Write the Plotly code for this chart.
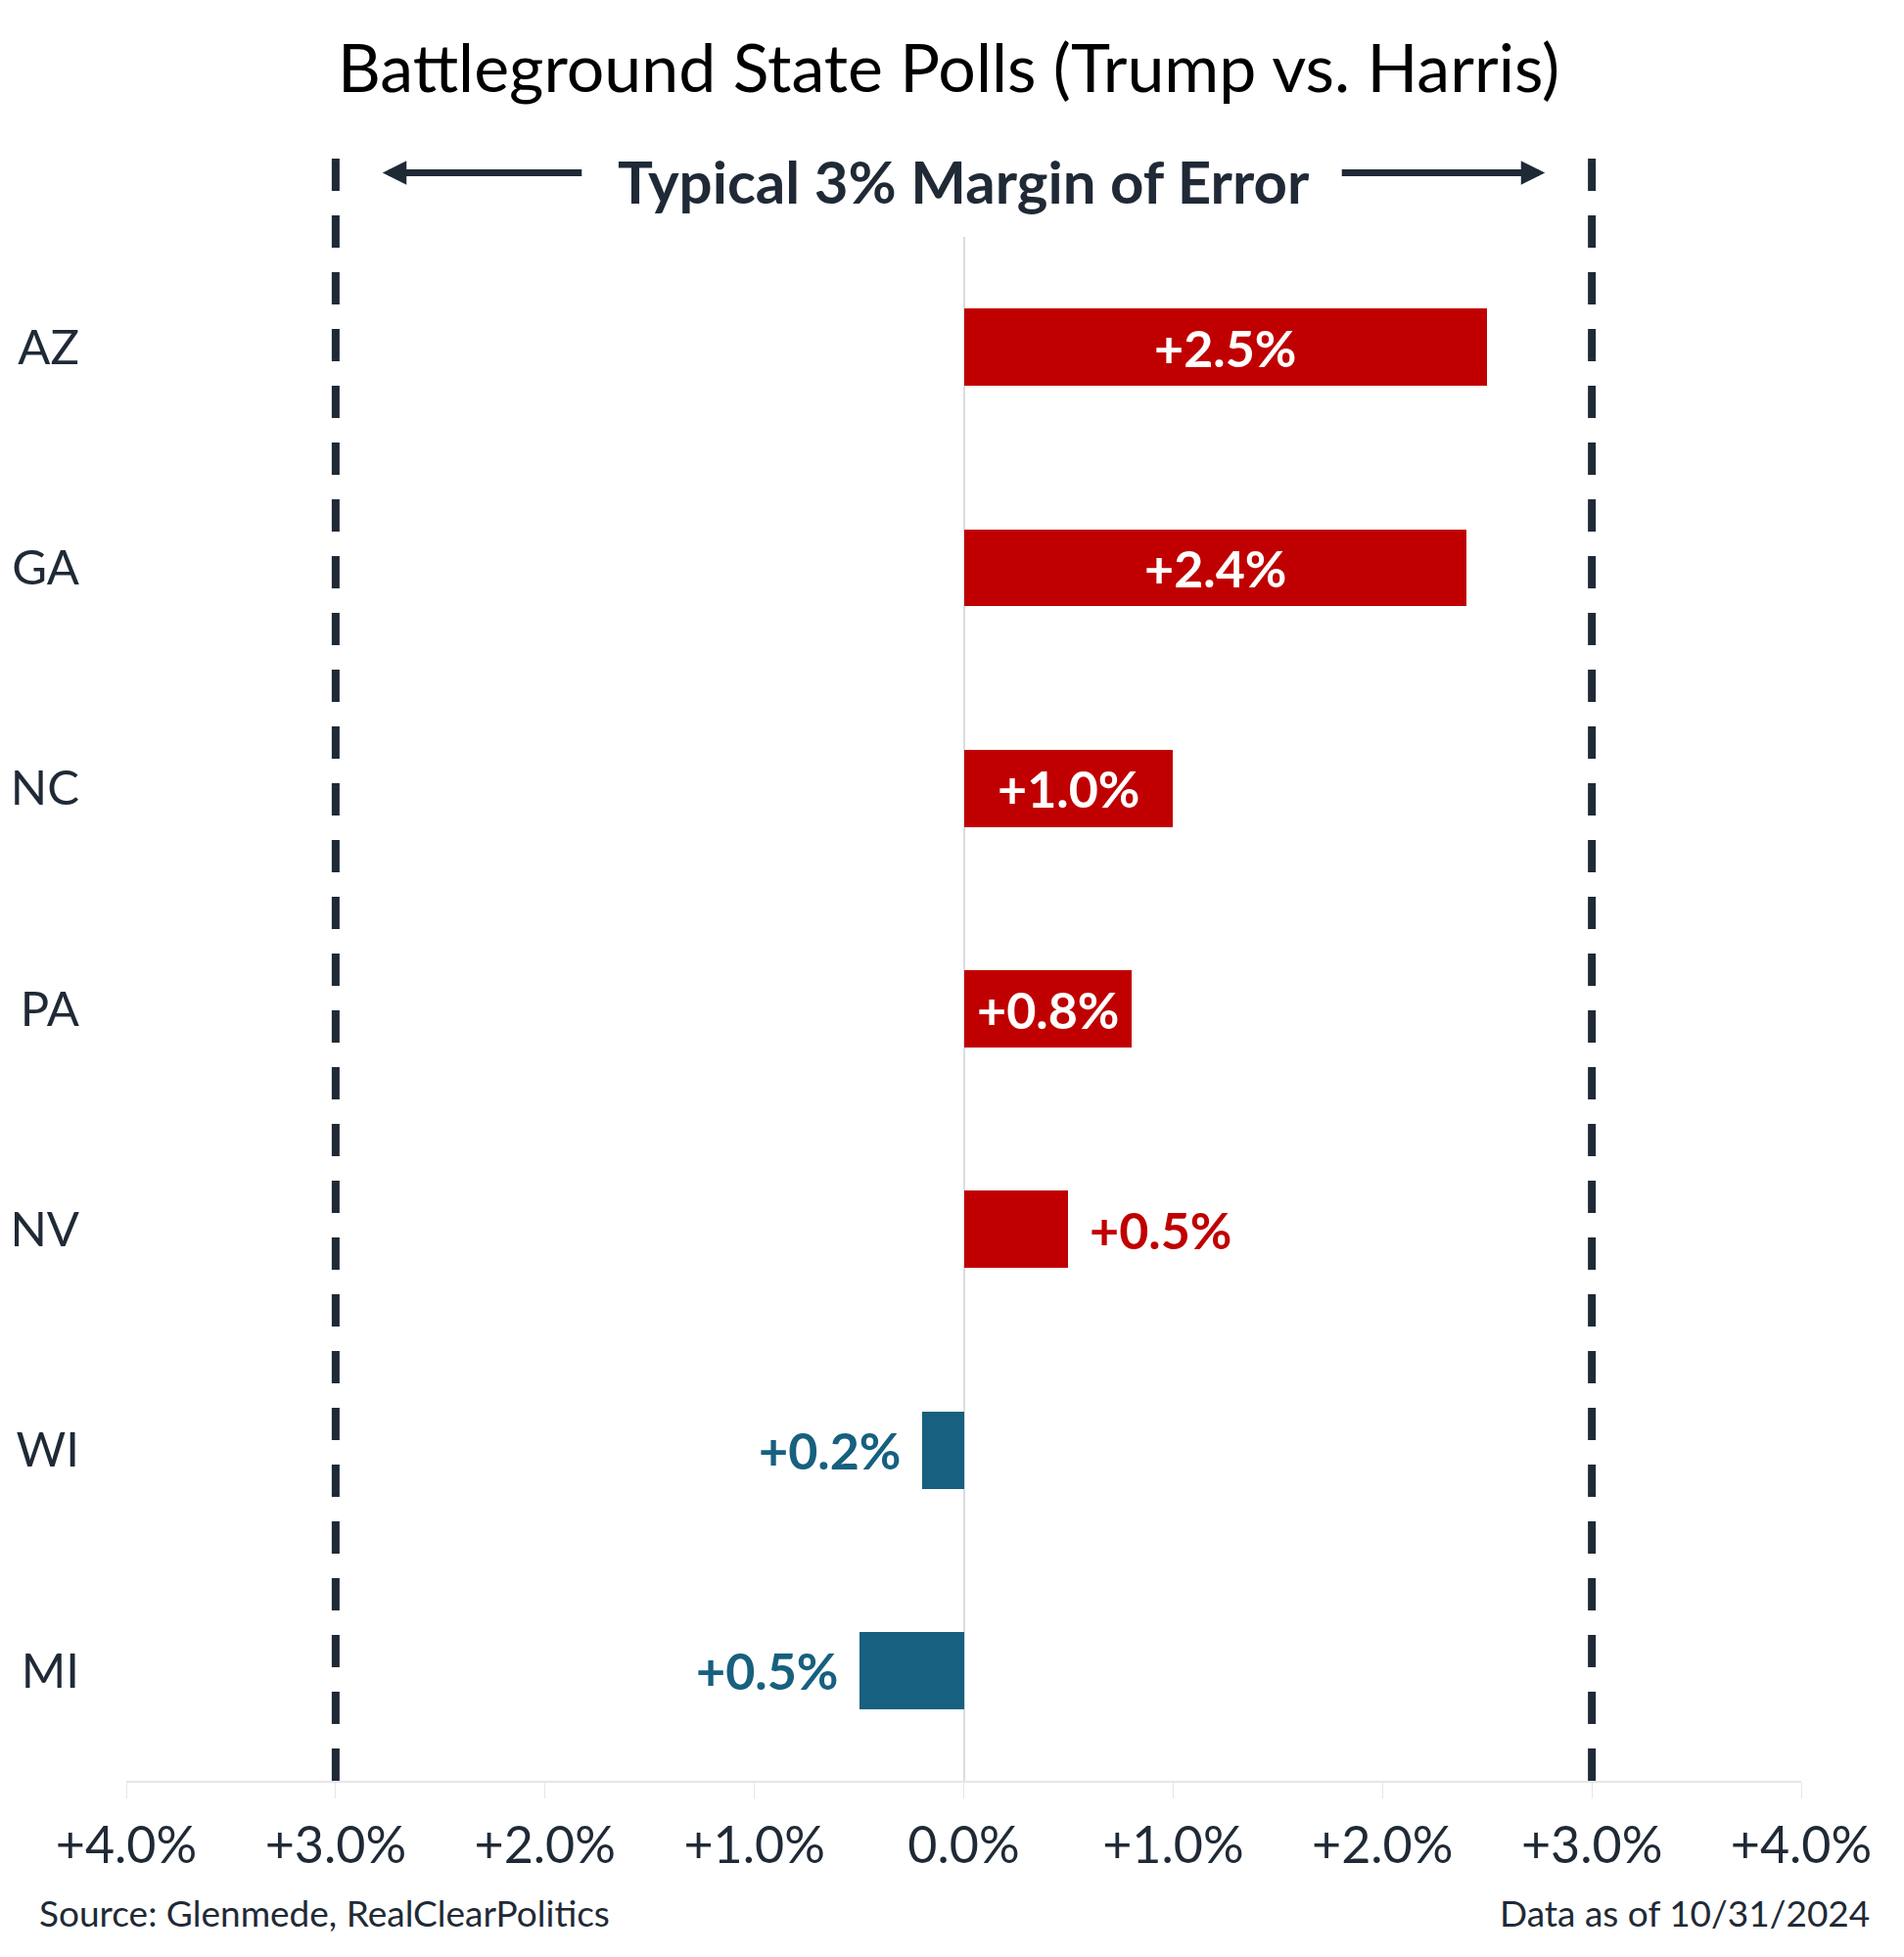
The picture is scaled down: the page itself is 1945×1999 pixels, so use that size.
import plotly.graph_objects as go

states = ["AZ", "GA", "NC", "PA", "NV", "WI", "MI"]
margins = [2.5, 2.4, 1.0, 0.8, 0.5, -0.2, -0.5]  # + Trump lead, - Harris lead
label_inside = [True, True, True, True, False, False, False]
tick_vals = [-4, -3, -2, -1, 0, 1, 2, 3, 4]
moe = 3.0

RED = "#C00000"
BLUE = "#17607F"
DARK = "#1F2A36"
FONT = "Lato"

colors = [RED if v > 0 else BLUE for v in margins]
labels = [f"+{abs(v):.1f}%" for v in margins]
tick_text = [("0.0%" if t == 0 else f"+{abs(t):.1f}%") for t in tick_vals]

fig = go.Figure()
fig.add_trace(go.Bar(
    x=margins, y=states, orientation="h",
    marker=dict(color=colors, line=dict(width=0)),
    width=0.35, hoverinfo="skip",
))

annotations = []
for s, v, lab, ins, c in zip(states, margins, labels, label_inside, colors):
    if ins:
        annotations.append(dict(x=v / 2, y=s, xref="x", yref="y", text=lab, showarrow=False,
                                xanchor="center", yanchor="middle",
                                font=dict(family=FONT, size=52, color="white", weight="bold")))
    else:
        annotations.append(dict(x=v, y=s, xref="x", yref="y", text=lab, showarrow=False,
                                xanchor="left" if v > 0 else "right", yanchor="middle",
                                xshift=20 if v > 0 else -20,
                                font=dict(family=FONT, size=52, color=c, weight="bold")))

# margin of error header
annotations.append(dict(x=0, y=1.036, xref="x", yref="paper", text="Typical 3% Margin of Error",
                        showarrow=False, xanchor="center", yanchor="middle",
                        font=dict(family=FONT, size=60, color=DARK, weight="bold")))
annotations.append(dict(x=-2.776, y=1.0415, xref="x", yref="paper", showarrow=True,
                        ax=205, ay=0, axref="pixel", ayref="pixel", text="",
                        arrowhead=2, arrowsize=0.7, arrowwidth=7, arrowcolor=DARK))
annotations.append(dict(x=2.776, y=1.0415, xref="x", yref="paper", showarrow=True,
                        ax=-209, ay=0, axref="pixel", ayref="pixel", text="",
                        arrowhead=2, arrowsize=0.7, arrowwidth=7, arrowcolor=DARK))

annotations.append(dict(x=-0.053, y=-0.0856, xref="paper", yref="paper",
                        text="Source: Glenmede, RealClearPolitics", showarrow=False,
                        xanchor="left", yanchor="middle",
                        font=dict(family=FONT, size=37, color=DARK)))
annotations.append(dict(x=1.042, y=-0.0856, xref="paper", yref="paper",
                        text="Data as of 10/31/2024", showarrow=False,
                        xanchor="right", yanchor="middle",
                        font=dict(family=FONT, size=37, color=DARK)))

shapes = []
for xv in (-moe, moe):
    shapes.append(dict(type="line", xref="x", yref="paper", x0=xv, x1=xv, y0=0, y1=1.052,
                       line=dict(color=DARK, width=8, dash="33px,25px"), layer="above"))

fig.update_layout(
    width=1945, height=1999,
    margin=dict(l=121, r=113, t=234, b=188, autoexpand=False),
    paper_bgcolor="white", plot_bgcolor="white",
    showlegend=False,
    title=dict(text="Battleground State Polls (Trump vs. Harris)", x=(969 - 8) / 1945, xref="container",
               xanchor="center", y=1 - 62 / 1999, yanchor="middle",
               font=dict(family=FONT, size=68, color="black")),
    font=dict(family=FONT, color=DARK),
    annotations=annotations,
    shapes=shapes,
    bargap=0,
)
fig.update_xaxes(
    range=[-4, 4], tickvals=tick_vals, ticktext=tick_text, automargin=False,
    showgrid=False, zeroline=True, zerolinecolor="#D9DDE4", zerolinewidth=2,
    showline=True, linecolor="#E6E6E6", linewidth=2,
    ticks="outside", ticklen=16, tickcolor="#E6E6E6", tickwidth=1,
    tickfont=dict(family=FONT, size=52, color=DARK), ticklabelstandoff=4,
)
fig.update_yaxes(
    type="category", categoryorder="array", categoryarray=states, automargin=False,
    range=[6.5, -0.5], showgrid=False, zeroline=False, showline=False, ticks="",
    tickfont=dict(family=FONT, size=49, color=DARK), ticklabelstandoff=47,
)

fig.write_html("out.html")
